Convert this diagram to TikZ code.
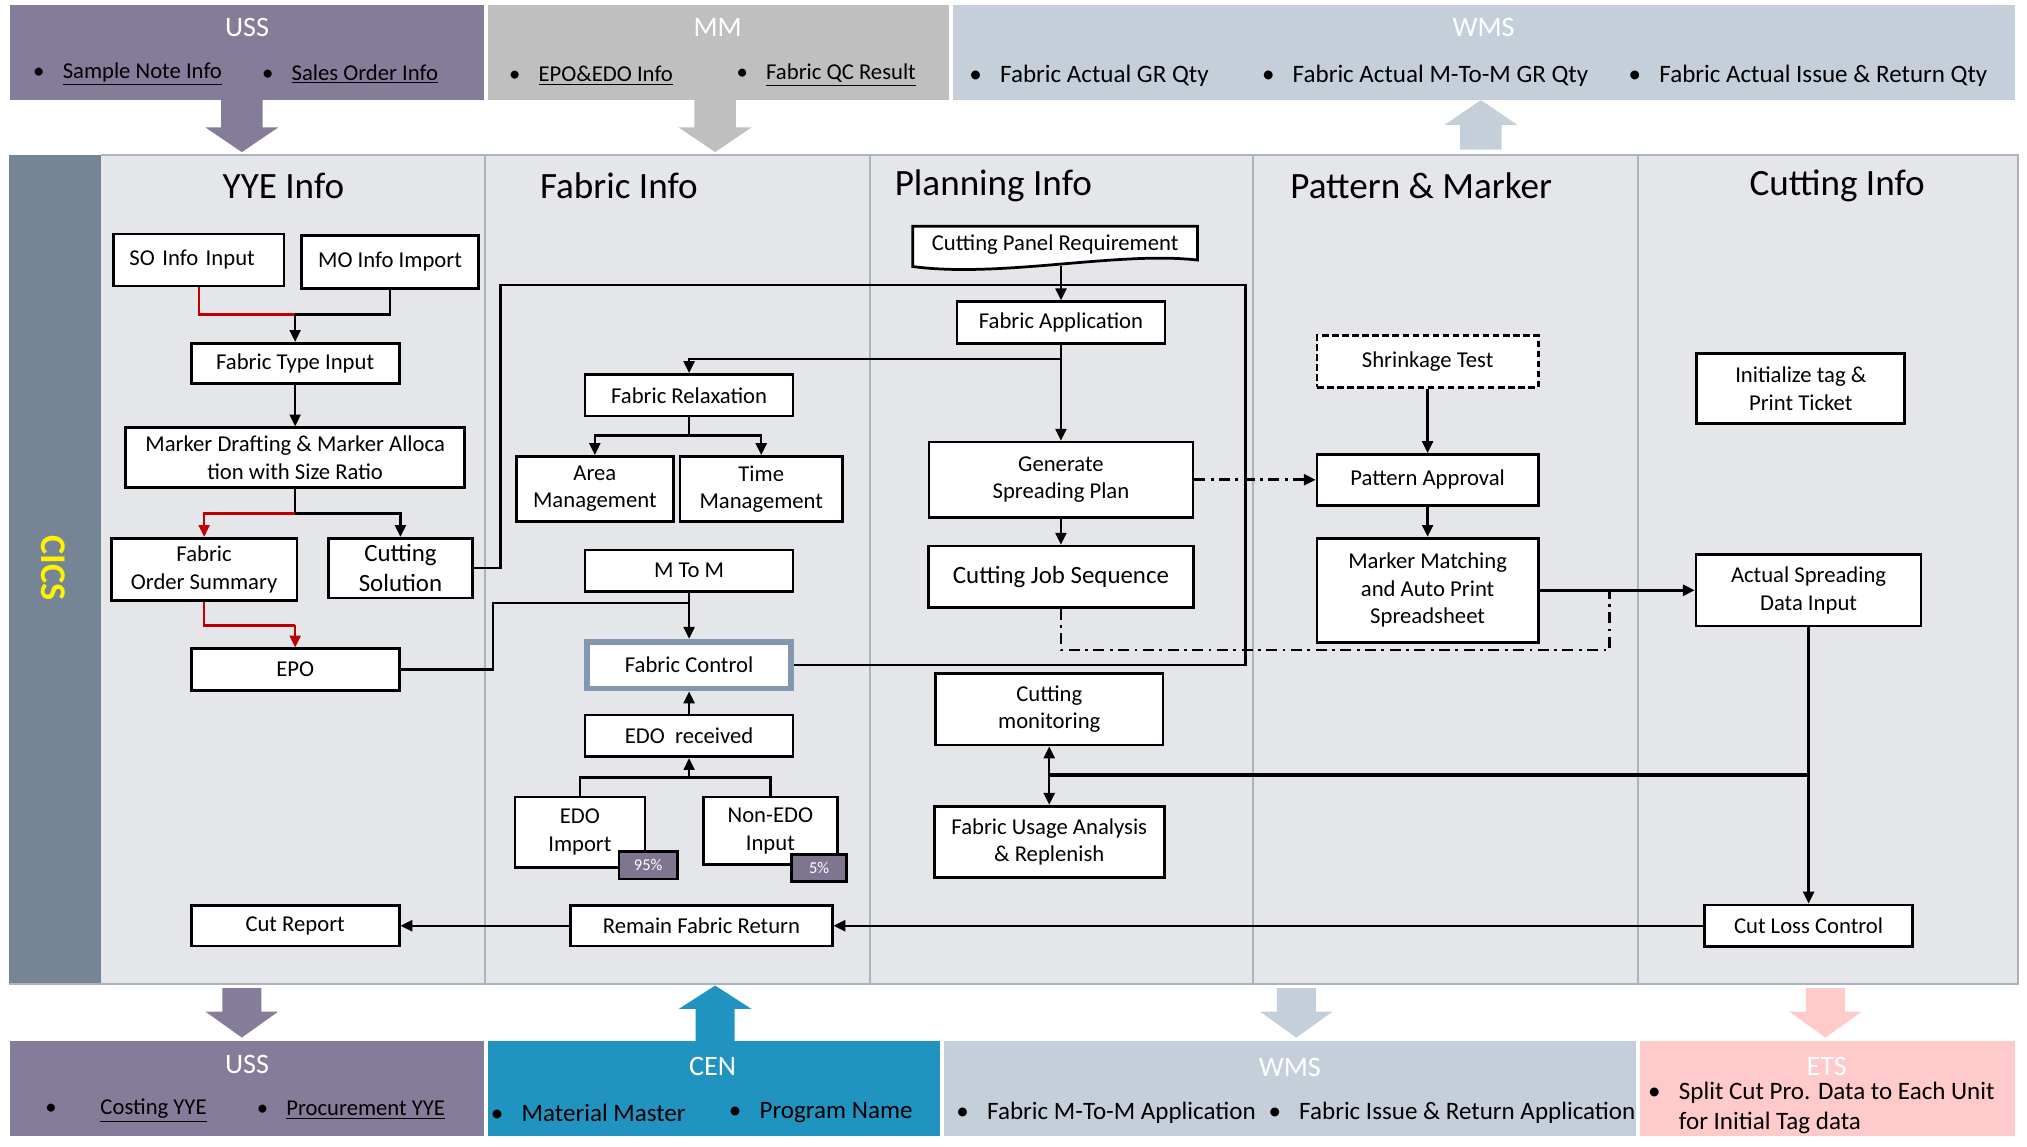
\documentclass[tikz,border=0pt]{standalone}
\usepackage{fontspec}
\setmainfont{Carlito}
\usepackage{xcolor}
\usetikzlibrary{arrows.meta, positioning, calc}

\definecolor{ussc}{HTML}{857C99}
\definecolor{mmc}{HTML}{BFBFBF}
\definecolor{wmsc}{HTML}{C5CFDA}
\definecolor{cenc}{HTML}{2193C0}
\definecolor{etsc}{HTML}{FFCACA}
\definecolor{lanebg}{HTML}{E4E6EA}
\definecolor{cicsbg}{HTML}{768595}
\definecolor{laneln}{HTML}{ABB4BE}
\definecolor{fcln}{HTML}{8497B0}
\definecolor{redln}{HTML}{C00000}
\definecolor{badgec}{HTML}{7F7591}

\newcommand{\fsBox}{\fontsize{12.4}{15}\selectfont}
\newcommand{\fsBig}{\fontsize{13.6}{16.5}\selectfont}
\newcommand{\fsLane}{\fontsize{20.3}{24}\selectfont}
\newcommand{\fsHead}{\fontsize{15.4}{18}\selectfont}
\newcommand{\fsItem}{\fontsize{12.4}{15}\selectfont}
\newcommand{\fsItemL}{\fontsize{13.7}{16.4}\selectfont}
\newcommand{\fsBadge}{\fontsize{9}{10}\selectfont}

\tikzset{
    wh/.style 2 args={minimum width=#1*0.025cm, minimum height=#2*0.025cm},
    box/.style={draw, line width=1.5pt, fill=white, align=center, inner sep=1pt, font=\fsBox},
    bigbox/.style={box, font=\fsBig},
    conn/.style={line width=1.3pt},
    redconn/.style={conn, draw=redln},
    dashdot/.style={line width=1.5pt, dash pattern=on 6pt off 3pt on 1.5pt off 3pt},
    lanetitle/.style={font=\fsLane, inner sep=0pt},
    panel/.style={inner sep=0pt, draw=none},
    headtitle/.style={font=\fsHead, text=white, inner sep=0pt},
    item/.style={anchor=west, inner sep=0pt, font=\fsItem},
    itemL/.style={anchor=west, inner sep=0pt, font=\fsItemL},
    badge/.style={draw, line width=1.5pt, fill=badgec, text=white, font=\fsBadge, inner sep=0pt},
    >={Triangle[length=6.5pt, width=6pt]}
}

\newcommand{\bul}[1]{\llap{\textbullet\hspace{#1}}}

\begin{document}
\begin{tikzpicture}[x=0.025cm, y=-0.025cm]
    \useasboundingbox (0,0) rectangle (1559,882);

    % top systems
    \node[panel, fill=ussc, wh={364}{73}] (ussTop) at (190,40.5) {};
    \node[panel, fill=mmc, wh={355}{73}] (mmTop) at (552.5,40.5) {};
    \node[panel, fill=wmsc, wh={817}{73}] (wmsTop) at (1141.5,40.5) {};
    \node[headtitle] (ussTopT) at (190,21) {USS};
    \node[headtitle] (mmTopT) at (552,21) {MM};
    \node[headtitle] (wmsTopT) at (1141,21) {WMS};
    \node[item] (ussTop1) at (48,57) {\bul{10pt}\underline{Sample Note Info}};
    \node[item] (ussTop2) at (224,57) {\bul{10pt}\underline{Sales Order Info}};
    \node[item] (mmTop1) at (414,58) {\bul{10pt}\underline{EPO\&EDO Info}};
    \node[item] (mmTop2) at (589,58) {\bul{10pt}\underline{Fabric QC Result}};
    \node[itemL] (wmsTop1) at (769,58) {\bul{10pt}Fabric Actual GR Qty};
    \node[itemL] (wmsTop2) at (994,58) {\bul{10pt}Fabric Actual M-To-M GR Qty};
    \node[itemL] (wmsTop3) at (1276,58) {\bul{10pt}Fabric Actual Issue \& Return Qty};

    \fill[ussc] (170,77) -- (202,77) -- (202,98) -- (214,98) -- (186,117) -- (158,98) -- (170,98) -- cycle;
    \fill[mmc] (534,77) -- (566,77) -- (566,98) -- (578,98) -- (550,117) -- (522,98) -- (534,98) -- cycle;
    \fill[wmsc] (1123,115) -- (1155,115) -- (1155,96) -- (1167,96) -- (1139,77) -- (1111,96) -- (1123,96) -- cycle;

    % lanes
    \fill[lanebg] (78,119) rectangle (1552,757);
    \fill[cicsbg] (7,119) rectangle (78,757);
    \draw[laneln, line width=1pt] (78,119) -- (1552,119) -- (1552,757) -- (7,757);
    \foreach \x in {373,669,964,1260}
        \draw[laneln, line width=1pt] (\x,119) -- (\x,757);
    \node[font=\fontsize{19.8}{22}\selectfont\bfseries, text=yellow, rotate=-90, inner sep=0pt] (cics) at (41,437) {CICS};

    \node[lanetitle] (tYYE) at (218,143) {YYE Info};
    \node[lanetitle] (tFabric) at (476,143) {Fabric Info};
    \node[lanetitle] (tPlan) at (764,143) {Planning Info};
    \node[lanetitle] (tPattern) at (1093,143) {Pattern \& Marker};
    \node[lanetitle] (tCut) at (1413,143) {Cutting Info};

    % YYE Info
    \node[box, align=left, text width=2.675cm, inner xsep=0.3cm, wh={131}{40}] (so) at (153,200) {SO Info Input};
    \node[box, wh={136}{41}] (mo) at (300,201.5) {MO Info Import};
    \node[box, wh={160}{31}] (ftype) at (227,279.5) {Fabric Type Input};
    \node[box, wh={261}{46}] (mdraft) at (227,352) {Marker Drafting \& Marker Alloca\\tion with Size Ratio};
    \node[box, wh={143}{48}] (fos) at (157,438) {Fabric\\Order Summary};
    \node[bigbox, wh={111}{46}] (csol) at (308,437) {Cutting\\Solution};
    \node[box, wh={160}{32}] (epo) at (227,515) {EPO};
    \node[box, wh={160}{31}] (cutrep) at (227,712) {Cut Report};

    % Fabric Info
    \node[box, wh={160}{32}] (frel) at (530,304) {Fabric Relaxation};
    \node[box, wh={121}{50}] (area) at (457.5,376) {Area\\Management};
    \node[box, wh={125}{50}] (time) at (585.5,376) {Time\\Management};
    \node[box, wh={160}{32}] (mtm) at (530,439) {M To M};
    \node[box, draw=fcln, line width=3.2pt, wh={157}{36}] (fc) at (530,511.5) {Fabric Control};
    \node[box, wh={160}{32}] (edor) at (530,566) {EDO~~received};
    \node[box, wh={100}{54}] (edoi) at (446,640) {EDO\\Import};
    \node[box, wh={103}{52}] (nedo) at (592.5,639) {Non-EDO\\Input};
    \node[badge, wh={45}{21}] (b95) at (498.5,665.5) {95\%};
    \node[badge, wh={42}{21}] (b5) at (630,667.5) {5\%};
    \node[box, wh={201}{31}] (rfr) at (539.5,712) {Remain Fabric Return};

    % Planning Info
    \draw[line width=1.5pt, fill=white] (702,174) -- (921,174) -- (921,200)
        .. controls (860,193) and (770,214) .. (702,205) -- cycle;
    \node[font=\fsBox, inner sep=0pt, wh={219}{32}] (cpr) at (811.5,188) {Cutting Panel Requirement};
    \node[box, wh={160}{32}] (fa) at (816,248) {Fabric Application};
    \node[box, wh={203}{58}] (gsp) at (816,369) {Generate\\Spreading Plan};
    \node[bigbox, wh={204}{47}] (cjs) at (816,443.5) {Cutting Job Sequence};
    \node[box, wh={175}{55}] (cmon) at (807,545.5) {Cutting\\monitoring};
    \node[box, wh={177}{55}] (fua) at (807,647.5) {Fabric Usage Analysis\\\& Replenish};

    % Pattern & Marker
    \node[box, dash pattern=on 3.5pt off 2pt, wh={170}{40}] (shr) at (1098,278) {Shrinkage Test};
    \node[box, wh={170}{39}] (pap) at (1098,369) {Pattern Approval};
    \node[box, wh={170}{80}] (mmat) at (1098,454) {Marker Matching\\and Auto Print\\Spreadsheet};

    % Cutting Info
    \node[box, wh={160}{54}] (itag) at (1385,299) {Initialize tag \&\\Print Ticket};
    \node[box, wh={173}{55}] (asdi) at (1391,454) {Actual Spreading\\Data Input};
    \node[box, wh={160}{32}] (clc) at (1391,712) {Cut Loss Control};

    % connectors
    \coordinate (j1) at (227,242);
    \draw[redconn] (so.south) |- (j1);
    \draw[conn] (mo.south) |- (j1);
    \draw[conn, ->] (j1) -- (ftype.north);
    \draw[conn, ->] (ftype.south) -- (mdraft.north);
    \coordinate (j2) at (227,395);
    \draw[conn] (mdraft.south) -- (j2);
    \draw[redconn, ->] (j2) -| (fos.north);
    \draw[conn, ->] (j2) -| (csol.north);
    \coordinate (j3) at (227,481);
    \draw[redconn] (fos.south) |- (j3);
    \draw[redconn, ->] (j3) -- (epo.north);
    \draw[conn] (csol.east) -| (385,219) -- (958,219) |- (fc.east);
    \coordinate (j4) at (530,464);
    \draw[conn] (epo.east) -| (379,464) -- (j4);
    \draw[conn, ->] (mtm.south) -- (fc.north);

    \draw[conn, ->] (fa.north |- cpr.south) -- (fa.north);
    \coordinate (j5) at (816,276);
    \draw[conn, ->] (fa.south) -- (gsp.north);
    \draw[conn, ->] (j5) -| (frel.north);
    \coordinate (j6) at (530,335);
    \draw[conn] (frel.south) -- (j6);
    \draw[conn, ->] (j6) -| (area.north);
    \draw[conn, ->] (j6) -| (time.north);

    \coordinate (j7) at (530,598);
    \draw[conn] (edoi.north) |- (j7) -| (nedo.north);
    \draw[conn, ->] (j7) -- (edor.south);
    \draw[conn, ->] (edor.north) -- (fc.south);

    \draw[conn, ->] (gsp.south) -- (cjs.north);
    \draw[dashdot, ->] (gsp.east) -- (pap.west);
    \coordinate (j8) at (1238,454);
    \draw[dashdot] (cjs.south) |- (1238,500) -- (j8);

    \draw[conn, ->] (shr.south) -- (pap.north);
    \draw[conn, ->] (pap.south) -- (mmat.north);
    \draw[conn, line width=1.6pt, ->] (mmat.east) -- (asdi.west);

    \coordinate (j9) at (1391,596);
    \coordinate (j10) at (807,596);
    \draw[conn] (asdi.south) -- (j9);
    \draw[conn, line width=2pt] (j9) -- (j10);
    \draw[conn, ->] (j10) -- (cmon.south);
    \draw[conn, ->] (j10) -- (fua.north);
    \draw[conn, ->] (j9) -- (clc.north);
    \draw[conn, ->] (clc.west) -- (rfr.east);
    \draw[conn, ->] (rfr.west) -- (cutrep.east);

    % bottom systems
    \fill[ussc] (171,760) -- (201,760) -- (201,778) -- (214,778) -- (186,798) -- (158,778) -- (171,778) -- cycle;
    \fill[cenc] (535,801) -- (565,801) -- (565,776) -- (578,776) -- (550,758) -- (522,776) -- (535,776) -- cycle;
    \fill[wmsc] (982,760) -- (1012,760) -- (1012,778) -- (1025,778) -- (997,798) -- (969,778) -- (982,778) -- cycle;
    \fill[etsc] (1389,760) -- (1419,760) -- (1419,778) -- (1432,778) -- (1404,798) -- (1376,778) -- (1389,778) -- cycle;

    \node[panel, fill=ussc, wh={364}{73}] (ussBot) at (190,837.5) {};
    \node[panel, fill=cenc, wh={348}{73}] (cenBot) at (549,837.5) {};
    \node[panel, fill=wmsc, wh={532}{73}] (wmsBot) at (992,837.5) {};
    \node[panel, fill=etsc, wh={289}{73}] (etsBot) at (1405.5,837.5) {};
    \node[headtitle] (ussBotT) at (190,819) {USS};
    \node[headtitle] (cenBotT) at (548,820) {CEN};
    \node[headtitle] (wmsBotT) at (992,821) {WMS};
    \node[headtitle] (etsBotT) at (1405,820) {ETS};
    \node[item] (ussBot1) at (77,854) {\bul{24pt}\underline{Costing YYE}};
    \node[item] (ussBot2) at (220,854) {\bul{10pt}\underline{Procurement YYE}};
    \node[itemL] (cenBot1) at (401,856) {\bul{10pt}Material Master};
    \node[itemL] (cenBot2) at (584,856) {\bul{10pt}Program Name};
    \node[itemL] (wmsBot1) at (759,856) {\bul{10pt}Fabric M-To-M Application};
    \node[itemL] (wmsBot2) at (999,856) {\bul{10pt}Fabric Issue \& Return Application};
    \node[itemL, align=left] (etsBot1) at (1291,852.5) {\bul{10pt}Split Cut Pro. Data to Each Unit\\for Initial Tag data};
\end{tikzpicture}
\end{document}
